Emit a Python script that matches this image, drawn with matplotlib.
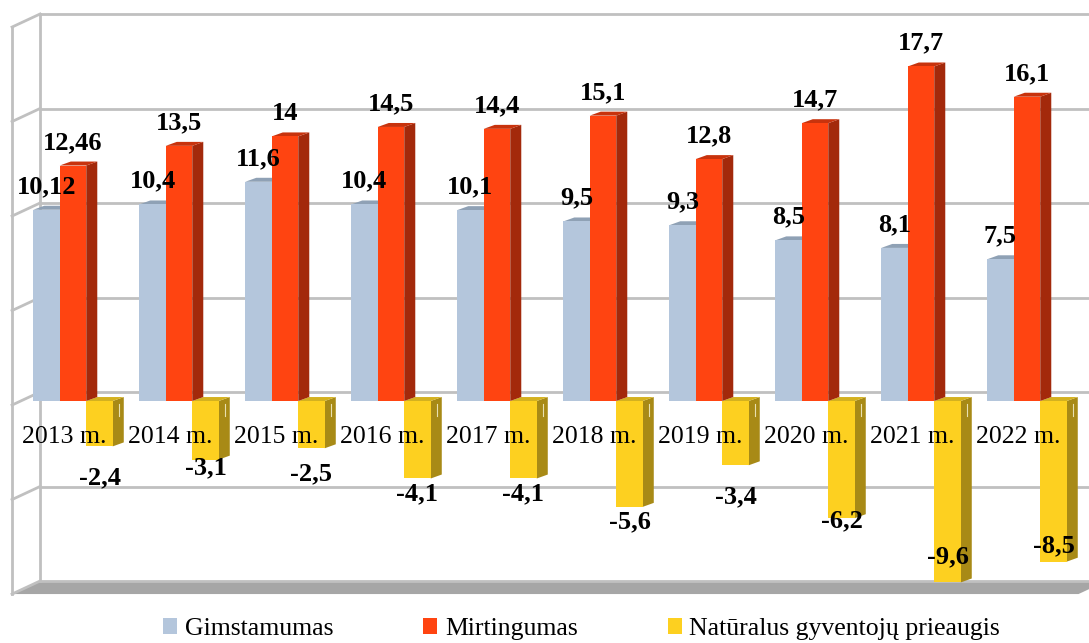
import matplotlib.pyplot as plt
from matplotlib.patches import Polygon, Patch

years = ['2013 m.', '2014 m.', '2015 m.', '2016 m.', '2017 m.',
         '2018 m.', '2019 m.', '2020 m.', '2021 m.', '2022 m.']
gimstamumas = [10.12, 10.4, 11.6, 10.4, 10.1, 9.5, 9.3, 8.5, 8.1, 7.5]
mirtingumas = [12.46, 13.5, 14, 14.5, 14.4, 15.1, 12.8, 14.7, 17.7, 16.1]
prieaugis = [-2.4, -3.1, -2.5, -4.1, -4.1, -5.6, -3.4, -6.2, -9.6, -8.5]
series_names = ['Gimstamumas', 'Mirtingumas', 'Natūralus gyventojų prieaugis']
gridlines = [-10, -5, 0, 5, 10, 15, 20]

# label nudges for the negative series (px below bar end, like Excel put them)
neg_nudge = [31, 8, 26, 15, 15, 15, 32, 3, -26, -16]

# colours: front, side, top
blue = ('#b4c6dc', '#8597ab', '#8fa1b5')
red = ('#ff4411', '#a3290b', '#c8330d')
yellow = ('#fdd020', '#a88a16', '#d4b11f')

plt.rcParams['font.family'] = ['Liberation Serif', 'DejaVu Serif']

W = 0.25          # bar width (category units)
DX, DY = 0.104, 0.21      # bar depth
WALL = 0.476      # back wall sits behind the bars
LX, LY = 0.264, 0.69      # left wall / floor depth
BACK_X = -0.311

fig = plt.figure(figsize=(10.89, 6.43), dpi=100)
ax = fig.add_axes([0, 0, 1, 1])
ax.set_xlim(-0.6887, 9.585)
ax.set_ylim(-12.804, 21.217)
ax.axis('off')

grid_c = '#c0c0c0'
lo, hi = gridlines[0] + WALL, gridlines[-1] + WALL
# floor
ax.add_patch(Polygon([(BACK_X, lo), (9.75, lo), (9.75 - LX, lo - LY), (BACK_X - LX, lo - LY)],
                     closed=True, facecolor='#a6a6a6', edgecolor='none', zorder=1))
# back wall grid + left wall lines
for g in gridlines:
    ax.plot([BACK_X, 9.7], [g + WALL, g + WALL], color=grid_c, lw=2, zorder=1.5)
    ax.plot([BACK_X - LX, BACK_X], [g + WALL - LY, g + WALL], color=grid_c, lw=2, zorder=1.5)
ax.plot([BACK_X, BACK_X], [lo, hi], color=grid_c, lw=2, zorder=1.5)
ax.plot([BACK_X - LX, BACK_X - LX], [lo - LY, hi - LY], color=grid_c, lw=2, zorder=1.5)


def bar3d(x0, v, cols, z):
    front, side, top = cols
    t = max(v, 0)
    ax.add_patch(Polygon([(x0 + W, 0), (x0 + W, v), (x0 + W + DX, v + DY), (x0 + W + DX, DY)],
                         closed=True, facecolor=side, edgecolor='none', zorder=z))
    ax.add_patch(Polygon([(x0, t), (x0 + W, t), (x0 + W + DX, t + DY), (x0 + DX, t + DY)],
                         closed=True, facecolor=top, edgecolor='none', zorder=z))
    ax.add_patch(Polygon([(x0, 0), (x0 + W, 0), (x0 + W, v), (x0, v)],
                         closed=True, facecolor=front, edgecolor='none', zorder=z + 0.1))


lab = dict(fontsize=19, fontweight='bold', ha='center', zorder=10)
for i in range(len(years)):
    xb, xr, xy = i - 1.5 * W, i - 0.5 * W, i + 0.5 * W
    bar3d(xy, prieaugis[i], yellow, 2)
    bar3d(xb, gimstamumas[i], blue, 3)
    bar3d(xr, mirtingumas[i], red, 4)
    # small highlight on yellow side
    ax.plot([xy + W + DX * 0.6] * 2, [DY * 0.6 - 0.3, DY * 0.6 - 0.9], color='#e8e0b0', lw=0.8, zorder=5)

    ax.annotate(f'{gimstamumas[i]:g}'.replace('.', ','), (xb + W / 2, gimstamumas[i]),
                xytext=(0, 12), textcoords='offset points', va='baseline', **lab)
    ax.annotate(f'{mirtingumas[i]:g}'.replace('.', ','), (xr + W / 2, mirtingumas[i]),
                xytext=(0, 12), textcoords='offset points', va='baseline', **lab)
    ax.annotate(f'{prieaugis[i]:g}'.replace('.', ','), (xy + W / 2, prieaugis[i]),
                xytext=(0, -neg_nudge[i] * 0.72), textcoords='offset points', va='center', **lab)
    ax.text(i - 0.085, -1.905, years[i], fontsize=18.5, ha='center', va='center', zorder=9)

handles = [Patch(facecolor=c[0], edgecolor='none') for c in (blue, red, yellow)]
fig.legend(handles, series_names, loc='center', bbox_to_anchor=(0.534, 0.022), ncol=3,
           frameon=False, fontsize=18.5, handlelength=0.55, handleheight=0.55,
           handletextpad=0.3, columnspacing=3.5, borderpad=0)

fig.savefig('out.png', dpi=100)
